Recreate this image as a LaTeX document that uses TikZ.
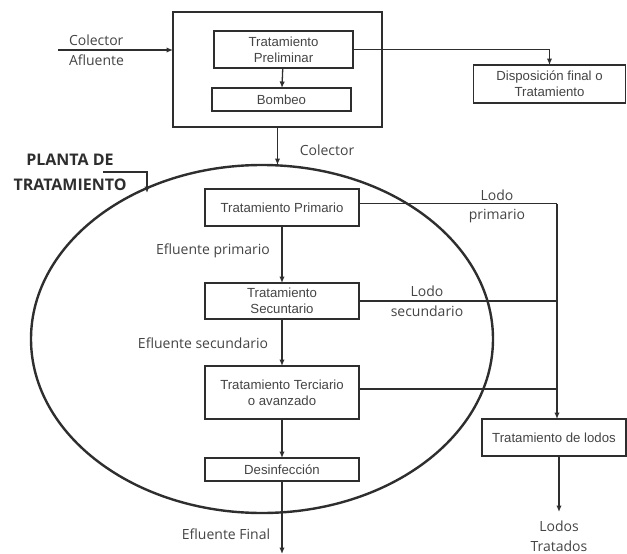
\documentclass[tikz,border=0pt]{standalone}
\usepackage{fontspec}
\setmainfont{Liberation Sans}
\newfontfamily\labelfont{Open Sans}
\usetikzlibrary{arrows.meta,shapes.geometric}
\definecolor{ink}{HTML}{2E2E2E}
\definecolor{txt}{HTML}{444444}
\begin{document}
\begin{tikzpicture}[x=1pt,y=-1pt,
  every node/.style={inner sep=0pt,outer sep=0pt},
  procbox/.style={draw=ink,line width=1.6pt,text=txt,align=center,
    font=\fontsize{13.2}{16}\selectfont,anchor=center},
  lbl/.style={text=txt,font=\labelfont\fontsize{14}{19.5}\selectfont,align=center},
  flow/.style={draw=ink,line width=1.3pt,-{Latex[length=6.5pt,width=5.5pt]}},
  line/.style={draw=ink,line width=1.3pt}]
\useasboundingbox (0,0) rectangle (627,554);

% main process boxes
\node[procbox,minimum width=209pt,minimum height=115pt,line width=2.6pt] (outer) at (277.5,69.5) {};
\node[procbox,minimum width=139pt,minimum height=37pt] (pre) at (283.5,49.5) {Tratamiento\\Preliminar};
\node[procbox,minimum width=139pt,minimum height=23pt] (bomb) at (281.5,99.5) {Bombeo};
\node[procbox,minimum width=152pt,minimum height=38pt] (disp) at (549.5,84) {Disposición final o\\Tratamiento};

% treatment plant
\node[draw=ink,line width=2.4pt,ellipse,minimum width=462pt,minimum height=348pt] (plant) at (262,339) {};
\node[procbox,minimum width=154pt,minimum height=37pt] (prim) at (282,207.5) {Tratamiento Primario};
\node[procbox,minimum width=154pt,minimum height=36pt] (sec) at (282,301) {Tratamiento\\Secuntario};
\node[procbox,minimum width=154pt,minimum height=53pt] (ter) at (282,392.5) {Tratamiento Terciario\\o avanzado};
\node[procbox,minimum width=154pt,minimum height=23pt] (des) at (282,469.5) {Desinfección};
\node[procbox,minimum width=144pt,minimum height=37pt] (lodos) at (554,437.5) {Tratamiento de lodos};

% labels
\node[lbl,align=left,anchor=west] (colin) at (69,50) {Colector\\Afluente};
\node[lbl] (colout) at (327,150) {Colector};
\node[text=ink,font=\labelfont\bfseries\fontsize{16}{25}\selectfont,align=center] (planta) at (70,172.5) {PLANTA DE\\TRATAMIENTO};
\node[lbl] (efp) at (213,251) {Efluente primario};
\node[lbl] (efs) at (203,343) {Efluente secundario};
\node[lbl] (eff) at (226,534) {Efluente Final};
\node[lbl] (lp) at (497,206.5) {Lodo\\primario};
\node[lbl] (ls) at (427,301) {Lodo\\secundario};
\node[lbl,font=\labelfont\fontsize{14}{20.5}\selectfont] (lt) at (559,536) {Lodos\\Tratados};

% free ends
\coordinate (in) at (58,50);
\coordinate (pl) at (103,172);
\coordinate (pk) at (147,172);
\coordinate (lx) at (557,0);
\coordinate (out) at (282,554);
\coordinate (ltop) at (559,512);

% connectors
\draw[flow] (in) -- (in -| outer.west);
\draw[flow] (pre) -- (bomb);
\draw[flow] (pre.east) -| (disp.north);
\draw[flow] (outer.south) -- (outer.south |- plant.north);
\draw[flow] (pl) -- (pk) -- (pk |- 0,193);
\draw[flow] (prim) -- (sec);
\draw[flow] (sec) -- (ter);
\draw[flow] (ter) -- (des);
\draw[flow] (des) -- (out);
\draw[line] ([yshift=4pt]prim.east) -- ([yshift=4pt]prim.east -| lx);
\draw[flow] ([yshift=4pt]prim.east -| lx) -- (lodos.north -| lx);
\draw[line] (sec.east) -- (sec.east -| lx);
\draw[line] ([yshift=3.5pt]ter.east) -- ([yshift=3.5pt]ter.east -| lx);
\draw[flow] (lodos.south -| ltop) -- (ltop);
\end{tikzpicture}
\end{document}
